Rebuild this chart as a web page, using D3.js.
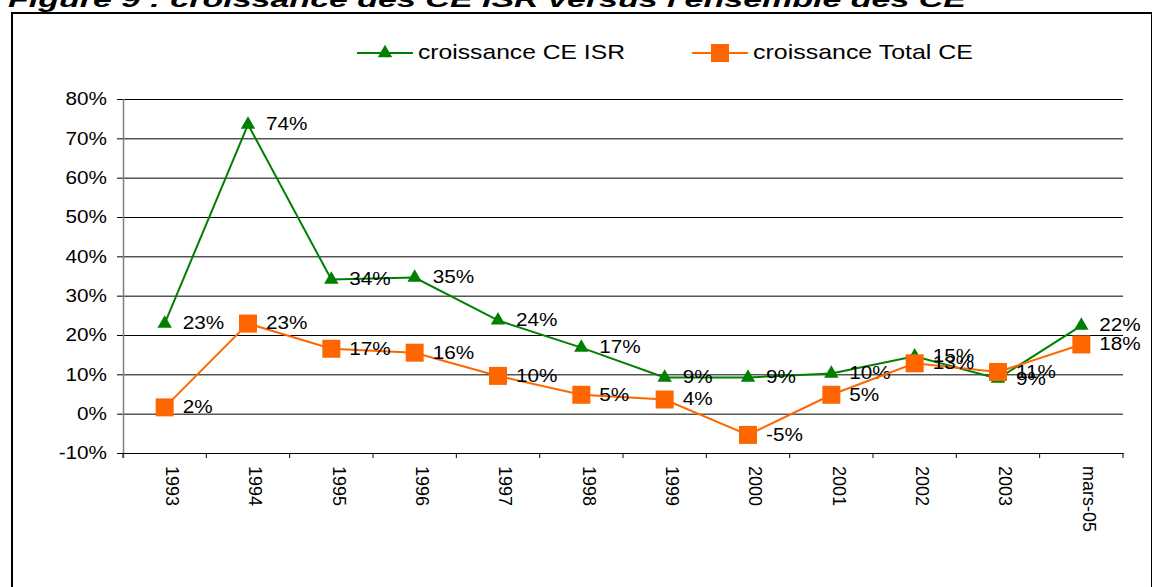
<!DOCTYPE html>
<html>
<head>
<meta charset="utf-8">
<title>croissance des CE ISR</title>
<script src="https://d3js.org/d3.v7.min.js"></script>
<style>
body { margin:0; background:#fff; }
text { font-family: "Liberation Sans", Arial, sans-serif; }
</style>
</head>
<body>
<script>
var categories = ["1993","1994","1995","1996","1997","1998","1999","2000","2001","2002","2003","mars-05"];
var isr   = [0.229, 0.735, 0.341, 0.346, 0.237, 0.168, 0.092, 0.092, 0.102, 0.146, 0.089, 0.224];
var total = [0.016, 0.229, 0.165, 0.155, 0.096, 0.048, 0.036, -0.054, 0.048, 0.128, 0.106, 0.176];
var yTicks = [-0.1, 0, 0.1, 0.2, 0.3, 0.4, 0.5, 0.6, 0.7, 0.8];
var seriesNames = ["croissance CE ISR", "croissance Total CE"];

var width = 1152, height = 587;
var pLeft = 123, pRight = 1123, pTop = 99, pBottom = 453;
var green = "#008000", orange = "#FF6600";
var stretch = 1.12; // the scan is a bit wider than the font

var pct = d3.formatLocale({decimal: ",", thousands: " ", grouping: [3], currency: ["", "€"], minus: "-"}).format('.0%');

var svg = d3.select('body').append('svg').attr('width', width).attr('height', height);

function widen(sel, k) {
  sel.each(function() {
    var w = this.getComputedTextLength();
    d3.select(this).attr('textLength', w * k).attr('lengthAdjust', 'spacingAndGlyphs');
  });
}

// title (cut at the top like the scan)
svg.append('text').attr('x', 8).attr('y', 7)
  .attr('font-family', '"DejaVu Sans", Verdana, sans-serif')
  .attr('font-weight', 'bold').attr('font-style', 'italic')
  .attr('font-size', 22).attr('textLength', 958).attr('lengthAdjust', 'spacingAndGlyphs')
  .text("Figure 9 : croissance des CE ISR versus l'ensemble des CE");

// frame
svg.append('rect').attr('x', 12).attr('y', 13).attr('width', 1140).attr('height', 600)
  .attr('fill', 'none').attr('stroke', '#000').attr('stroke-width', 2);

var x = d3.scaleBand().domain(categories).range([pLeft, pRight]);
var y = d3.scaleLinear().domain([-0.1, 0.8]).range([pBottom, pTop]);

// gridlines + y axis
var yAxis = svg.append('g').attr('transform', 'translate(' + pLeft + ',0)')
  .call(d3.axisLeft(y).tickValues(yTicks).tickFormat(pct).tickSize(6).tickPadding(10));
yAxis.select('.domain').remove();
yAxis.selectAll('.tick line').attr('stroke', '#000');
yAxis.selectAll('.tick').append('line').attr('x1', 0).attr('x2', pRight - pLeft).attr('stroke', '#000');
yAxis.selectAll('text').attr('font-size', 18.5).attr('fill', '#000')
  .attr('font-family', '"Liberation Sans", Arial, sans-serif');
widen(yAxis.selectAll('text'), stretch);
svg.append('line').attr('x1', pLeft + 0.5).attr('x2', pLeft + 0.5).attr('y1', pTop).attr('y2', pBottom + 5)
  .attr('stroke', '#808080').attr('stroke-width', 1.5);

// x axis
var xAxis = svg.append('g').attr('transform', 'translate(0,' + pBottom + ')')
  .call(d3.axisBottom(x).tickSize(0).tickPadding(0));
xAxis.select('.domain').attr('stroke', '#000');
xAxis.selectAll('.tick text')
  .attr('font-size', 18).attr('fill', '#000').attr('font-family', '"Liberation Sans", Arial, sans-serif')
  .attr('text-anchor', 'start').attr('dy', null)
  .attr('transform', 'translate(6,13) rotate(90)')
  .attr('dominant-baseline', 'middle');
var bounds = categories.map(function(c) { return x(c); }).concat([pRight]);
xAxis.selectAll('.bound').data(bounds).enter().append('line')
  .attr('x1', function(d) { return d; }).attr('x2', function(d) { return d; })
  .attr('y1', 0).attr('y2', 5).attr('stroke', '#000');

var cx = function(d, i) { return x(categories[i]) + x.bandwidth() / 2; };
var line = d3.line().x(function(d, i) { return cx(d, i); }).y(function(d) { return y(d); });

function drawSeries(vals, color, shape, size) {
  var g = svg.append('g');
  g.append('path').datum(vals).attr('d', line).attr('fill', 'none').attr('stroke', color).attr('stroke-width', 2);
  g.selectAll('path.m').data(vals).enter().append('path').attr('class', 'm')
    .attr('d', d3.symbol().type(shape).size(size))
    .attr('transform', function(d, i) { return 'translate(' + cx(d, i) + ',' + y(d) + ')'; })
    .attr('fill', color);
  var t = g.selectAll('text').data(vals).enter().append('text')
    .attr('x', function(d, i) { return cx(d, i) + 18; })
    .attr('y', function(d) { return y(d) + 1; })
    .attr('dominant-baseline', 'middle')
    .attr('font-size', 18.5).attr('fill', '#000')
    .text(function(d) { return pct(d); });
  widen(t, stretch);
}
drawSeries(isr, green, d3.symbolTriangle, 90);
drawSeries(total, orange, d3.symbolSquare, 324);

// legend
var legend = [
  {name: seriesNames[0], color: green, shape: d3.symbolTriangle, size: 90, x: 357, w: 207},
  {name: seriesNames[1], color: orange, shape: d3.symbolSquare, size: 324, x: 692, w: 220}
];
var lg = svg.selectAll('g.legend').data(legend).enter().append('g').attr('class', 'legend')
  .attr('transform', function(d) { return 'translate(' + d.x + ',53)'; });
lg.append('line').attr('x1', 0).attr('x2', 56).attr('stroke', function(d) { return d.color; }).attr('stroke-width', 2);
lg.append('path').attr('d', function(d) { return d3.symbol().type(d.shape).size(d.size)(); })
  .attr('transform', 'translate(28,0)').attr('fill', function(d) { return d.color; });
lg.append('text').attr('x', 61).attr('y', 0).attr('dominant-baseline', 'middle')
  .attr('font-size', 21).attr('fill', '#000')
  .attr('textLength', function(d) { return d.w; }).attr('lengthAdjust', 'spacingAndGlyphs')
  .text(function(d) { return d.name; });
</script>
</body>
</html>
